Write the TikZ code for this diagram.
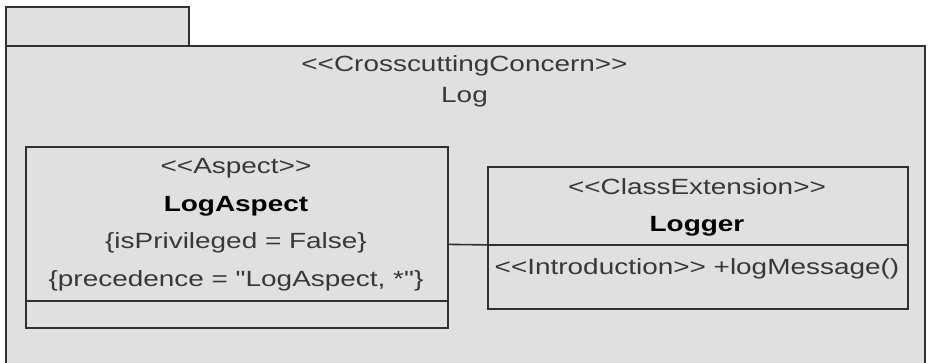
\documentclass[tikz,border=0pt]{standalone}
\usepackage{fontspec}
\newfontfamily\umlfont[FakeStretch=1.27]{Liberation Sans}
\definecolor{umlfill}{HTML}{E0E0E0}
\definecolor{umlline}{HTML}{303030}
\definecolor{umltext}{HTML}{383838}

\begin{document}
\begin{tikzpicture}[
		x=1pt, y=-1pt,
		every node/.style={font=\umlfont\fontsize{22}{26}\selectfont, text=umltext},
		pkg/.style={rectangle, draw=umlline, fill=umlfill, line width=2pt, anchor=north west, inner sep=0pt},
		cls/.style={rectangle, draw=umlline, fill=umlfill, line width=1.8pt, anchor=north west, inner sep=0pt},
		lbl/.style={anchor=base, inner sep=0pt},
		clsname/.style={lbl, font=\umlfont\bfseries\fontsize{22}{26}\selectfont, text=black}
	]
	\clip (0,0) rectangle (929,363);
	\fill[white] (0,0) rectangle (929,363);

	% package
	\node[pkg, minimum width=183pt, minimum height=39pt] (tab) at (5,6) {};
	\node[pkg, minimum width=919pt, minimum height=340pt] (pkg) at (5,45) {};
	\node[lbl] (stereo) at (464.5,72) {<<CrosscuttingConcern>>};
	\node[lbl] (pkgname) at (464.5,103) {Log};

	% aspect
	\node[cls, minimum width=422pt, minimum height=181pt] (asp) at (25,146) {};
	\draw[umlline, line width=1.8pt] ([yshift=28pt]asp.south west) -- ([yshift=28pt]asp.south east);
	\node[lbl] (aspst) at (236,174) {<<Aspect>>};
	\node[clsname] (aspname) at (236,212) {LogAspect};
	\node[lbl] (priv) at (236,249) {\{isPrivileged = False\}};
	\node[lbl] (prec) at (236,287) {\{precedence = "LogAspect, *"\}};

	% class extension
	\node[cls, minimum width=420pt, minimum height=142pt] (ext) at (487,166) {};
	\draw[umlline, line width=1.8pt] ([yshift=65pt]ext.south west) -- ([yshift=65pt]ext.south east);
	\node[lbl] (extst) at (697,195) {<<ClassExtension>>};
	\node[clsname] (extname) at (697,232) {Logger};
	\node[lbl] (intro) at (697,275) {<<Introduction>> +logMessage()};

	\draw[umlline, line width=1.6pt] ([yshift=-7pt]asp.east) -- ([yshift=-7pt]ext.west);
\end{tikzpicture}
\end{document}
